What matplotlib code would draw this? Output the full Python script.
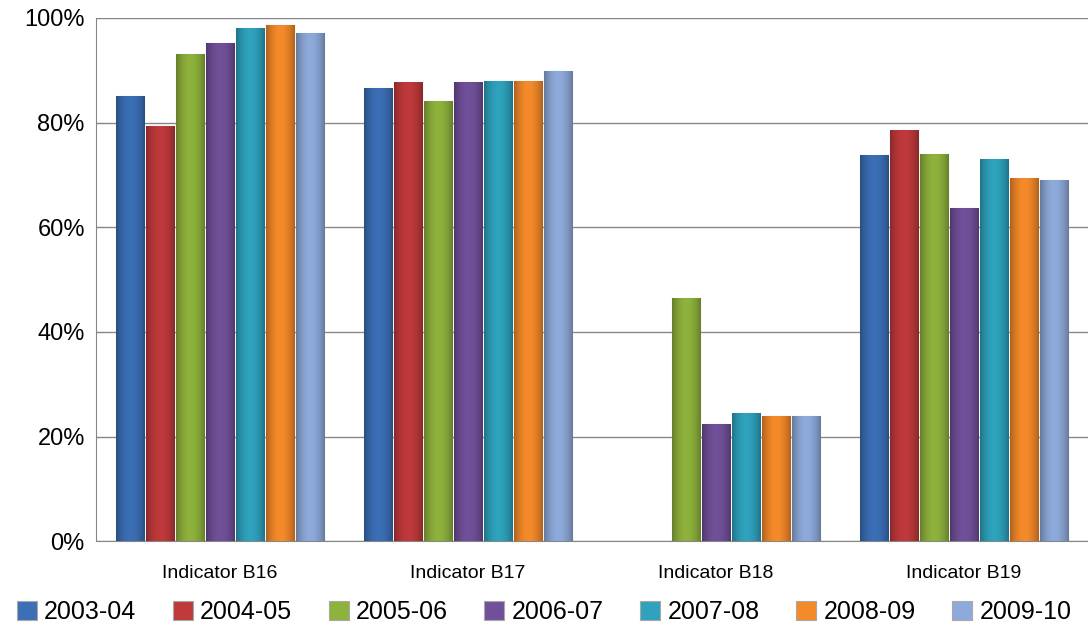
import matplotlib
matplotlib.use('Agg')
import matplotlib.pyplot as plt
import numpy as np
from matplotlib.colors import to_rgb
from matplotlib.ticker import PercentFormatter

plt.rcParams['font.family'] = ['Liberation Sans', 'DejaVu Sans']

# дані з графіка
categories = ['Indicator B16', 'Indicator B17', 'Indicator B18', 'Indicator B19']
years = ['2003-04', '2004-05', '2005-06', '2006-07', '2007-08', '2008-09', '2009-10']
v_0304 = [85.0, 86.7, np.nan, 73.8]
v_0405 = [79.3, 87.7, np.nan, 78.6]
v_0506 = [93.1, 84.2, 46.5, 74.0]
v_0607 = [95.3, 87.7, 22.4, 63.6]
v_0708 = [98.1, 88.0, 24.5, 73.0]
v_0809 = [98.7, 87.9, 23.9, 69.5]
v_0910 = [97.2, 89.8, 23.9, 69.0]
series = [v_0304, v_0405, v_0506, v_0607, v_0708, v_0809, v_0910]
colors = ['#3b6fb6', '#c0393b', '#8fb23c', '#71509a', '#2fa2bd', '#f58a2a', '#8eaadb']

fig = plt.figure(figsize=(10.88, 6.42), dpi=100)
ax = fig.add_axes([0.0882, 0.157, 0.9118, 0.815])

x = np.arange(len(categories))
pitch = 0.121
width = 0.113

# горизонтальний градієнт: темніші краї, світліший центр
prof = np.linspace(-1, 1, 32)
shade = 1 - 0.28 * np.abs(prof) ** 2

for i, (vals, c) in enumerate(zip(series, colors)):
    off = (i - 3) * pitch
    bars = ax.bar(x + off, vals, width, color=c, edgecolor='#a8a8a8', linewidth=0.8,
                  label=years[i], zorder=3)
    rgb = np.array(to_rgb(c))
    img = (shade[:, None] * rgb[None, :])[None, :, :]
    for b in bars:
        h = b.get_height()
        if not np.isfinite(h):
            continue
        x0 = b.get_x()
        im = ax.imshow(img, extent=[x0, x0 + width, 0, h], aspect='auto',
                       zorder=3.5, interpolation='bilinear')
        im.set_clip_path(b)

ax.set_xlim(-0.5, 3.5)
ax.set_ylim(0, 100)
ax.set_yticks(np.arange(0, 101, 20))
ax.yaxis.set_major_formatter(PercentFormatter(decimals=0))
ax.grid(axis='y', color='#868686', linewidth=1, zorder=0)
ax.set_xticks(x)
ax.set_xticklabels(categories, fontsize=14)
ax.tick_params(axis='both', length=0)
ax.tick_params(axis='y', labelsize=17, pad=8)
ax.tick_params(axis='x', pad=17)
for s in ['top', 'right']:
    ax.spines[s].set_visible(False)
for s in ['left', 'bottom']:
    ax.spines[s].set_color('#868686')

fig.legend(loc='center', bbox_to_anchor=(0.5, 1 - 612 / 642), ncol=7, frameon=False,
           fontsize=18, handlelength=0.8, handleheight=0.8, handletextpad=0.3,
           columnspacing=1.45)

fig.savefig('out.png', dpi=100)
